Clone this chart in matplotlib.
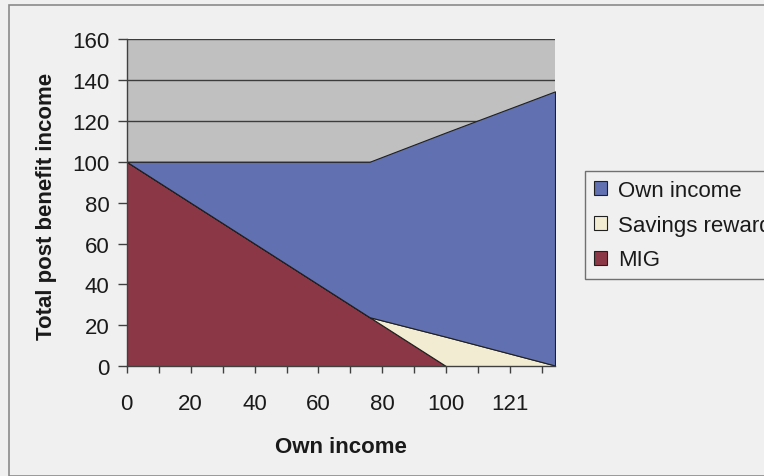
import matplotlib
matplotlib.use("Agg")
import matplotlib.pyplot as plt
from matplotlib.patches import Rectangle

# Own income levels where the benefit schedule changes slope
income_points = [0, 76, 100, 134]
# Stacked components of total post-benefit income at those points
mig = [100, 24, 0, 0]
savings_reward = [0, 0, 14.4, 0.4]
own_income = [0, 76, 100, 134]

series_names = ["MIG", "Savings reward", "Own income"]
series_colors = ["#8C3746", "#F2ECD2", "#6070B0"]

x_tick_positions = list(range(0, 131, 10))
x_tick_labels = ["0", "", "20", "", "40", "", "60", "", "80", "", "100", "", "121", ""]
y_ticks = [0, 20, 40, 60, 80, 100, 120, 140, 160]

plt.rcParams["font.family"] = ["Liberation Sans", "DejaVu Sans"]

W, H = 764, 477
fig = plt.figure(figsize=(W / 100, H / 100), dpi=100)
fig.patch.set_facecolor("#F0F0F0")

# chart frame
fig.patches.append(Rectangle((9 / W, 0), 1, 1 - 6 / H, transform=fig.transFigure,
                             fill=False, edgecolor="#8A8A8A", linewidth=1.2))

ax = fig.add_axes([126.7 / W, 1 - 367.3 / H, (555 - 126.7) / W, (367.3 - 40) / H])
ax.set_facecolor("#C0C0C0")

polys = ax.stackplot(income_points, mig, savings_reward, own_income,
                     colors=series_colors, labels=series_names,
                     edgecolor="#202020", linewidth=0.8, zorder=3)

ax.set_xlim(0, 134)
ax.set_ylim(0, 160)
ax.set_yticks(y_ticks)
ax.set_xticks(x_tick_positions)
ax.set_xticklabels(x_tick_labels)

ax.yaxis.grid(True, color="#3C3C3C", linewidth=1.0, zorder=1)
ax.set_axisbelow(True)

for side in ("top", "right"):
    ax.spines[side].set_visible(False)
for side in ("left", "bottom"):
    ax.spines[side].set_color("#404040")
    ax.spines[side].set_linewidth(1.0)
    ax.spines[side].set_zorder(5)

ax.tick_params(axis="y", direction="out", length=6.5, width=1, color="#404040",
               pad=6, labelsize=16, labelcolor="#1A1A1A")
ax.tick_params(axis="x", direction="out", length=5, width=1, color="#404040",
               pad=14, labelsize=16, labelcolor="#1A1A1A")

ax.set_xlabel("Own income", fontsize=16, fontweight="bold", color="#1A1A1A", labelpad=16)
ax.set_ylabel("Total post benefit income", fontsize=16, fontweight="bold",
              color="#1A1A1A")
ax.yaxis.set_label_coords((57 - 126.7) / (555 - 126.7), 0.49)

handles, labels = ax.get_legend_handles_labels()
leg = fig.legend(handles[::-1], labels[::-1], loc="upper left",
                 bbox_to_anchor=(585 / W, 1 - 172 / H), fontsize=16,
                 frameon=True, fancybox=False, facecolor="#F0F0F0",
                 edgecolor="#505050", handlelength=0.6, handleheight=0.6,
                 handletextpad=0.5, labelspacing=0.62, borderpad=0.4,
                 borderaxespad=0)
leg.get_frame().set_linewidth(1.0)
for t in leg.get_texts():
    t.set_color("#1A1A1A")

fig.savefig("out.png", dpi=100, facecolor=fig.get_facecolor())
